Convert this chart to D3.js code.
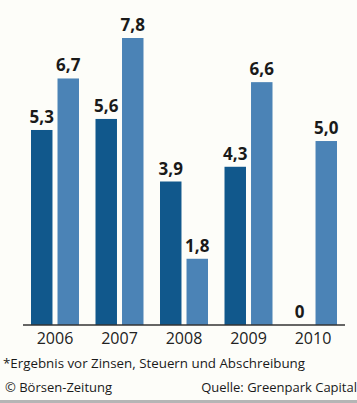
<!DOCTYPE html>
<html>
<head>
<meta charset="utf-8">
<script src="https://cdn.jsdelivr.net/npm/d3@7"></script>
<style>
  html, body { margin: 0; padding: 0; background: #fdfdf9; }
  svg { display: block; }
  text { font-family: "Open Sans", "Noto Sans", sans-serif; fill: #1a1a1a; }
</style>
</head>
<body>
<svg width="357" height="403"></svg>
<script>
const years = ["2006", "2007", "2008", "2009", "2010"];
const darkValues = [5.3, 5.6, 3.9, 4.3, 0];
const lightValues = [6.7, 7.8, 1.8, 6.6, 5.0];
const footnote = "*Ergebnis vor Zinsen, Steuern und Abschreibung";
const credit = "© Börsen-Zeitung";
const source = "Quelle: Greenpark Capital";

const svg = d3.select("svg");
const baseY = 325;

const x = d3.scaleBand().domain(years).range([23, 345]).paddingInner(0.256).paddingOuter(0.124);
const sub = d3.scaleBand().domain(["dark", "light"]).range([0, x.bandwidth()]).paddingInner(0.19);
const y = d3.scaleLinear().domain([0, 7.8]).range([baseY, 38]);

const rows = years.map((yr, i) => ({ year: yr, dark: darkValues[i], light: lightValues[i] }));

const g = svg.append("g");

const groups = g.selectAll("g.year")
  .data(rows)
  .enter().append("g")
  .attr("class", "year")
  .attr("transform", d => "translate(" + x(d.year) + ",0)");

const colors = { dark: "#11588c", light: "#4b83b6" };

groups.selectAll("rect")
  .data(d => ["dark", "light"].map(k => ({ key: k, value: d[k] })))
  .enter().append("rect")
  .attr("x", d => sub(d.key))
  .attr("width", sub.bandwidth())
  .attr("y", d => y(d.value))
  .attr("height", d => baseY - y(d.value))
  .style("fill", d => colors[d.key]);

groups.selectAll("text.val")
  .data(d => ["dark", "light"].map(k => ({ key: k, value: d[k] })))
  .enter().append("text")
  .attr("class", "val")
  .attr("x", d => sub(d.key) + sub.bandwidth() / 2)
  .attr("y", d => y(d.value) - 7)
  .attr("text-anchor", "middle")
  .style("font-size", "17px")
  .style("font-weight", "bold")
  .text(d => d3.format(".1f")(d.value).replace(".", ",").replace(/^0,0$/, "0"));

// axis
const axis = d3.axisBottom(x).tickSize(0).tickPadding(8);
const ax = svg.append("g")
  .attr("transform", "translate(0," + baseY + ")")
  .call(axis);
ax.select(".domain").attr("stroke", "#333").attr("stroke-width", 1.5).attr("d", "M23,0H345");
ax.selectAll("text")
  .style("font-size", "16px")
  .style("fill", "#222")
  .attr("font-family", "Open Sans");

svg.append("text")
  .attr("x", 3).attr("y", 368)
  .style("font-size", "13px")
  .attr("textLength", 302)
  .attr("lengthAdjust", "spacingAndGlyphs")
  .text(footnote);

svg.append("text")
  .attr("x", 5).attr("y", 392)
  .style("font-size", "13px")
  .text(credit);

svg.append("text")
  .attr("x", 357).attr("y", 392)
  .attr("text-anchor", "end")
  .style("font-size", "13px")
  .text(source);

svg.append("rect")
  .attr("x", 0).attr("y", 400).attr("width", 357).attr("height", 3)
  .style("fill", "#b5b5b5");
</script>
</body>
</html>
